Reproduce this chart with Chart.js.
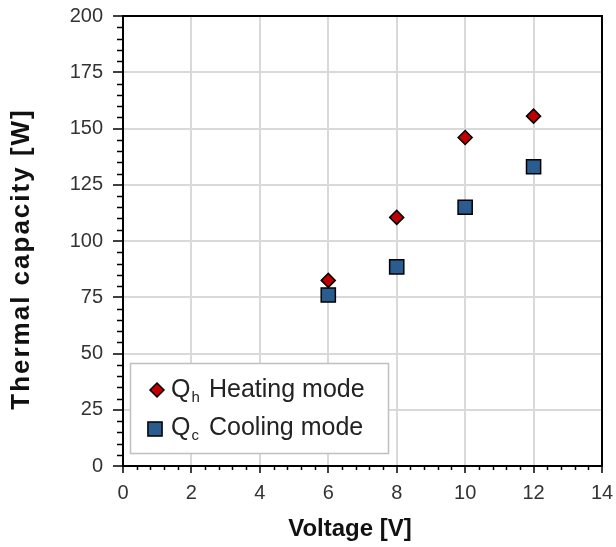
<!DOCTYPE html>
<html><head><meta charset="utf-8">
<script src="https://cdn.jsdelivr.net/npm/chart.js@4/dist/chart.umd.min.js"></script>
<style>html,body{margin:0;padding:0;background:#fff}#wrap{width:616px;height:547px}</style>
</head><body><div id="wrap"><canvas id="c" width="616" height="547"></canvas></div>
<script>
const voltages = [6, 8, 10, 12];
const heatingValues = [82.5, 110.5, 146, 155.5];
const coolingValues = [76, 88.5, 115, 133];
const xTickValues = [0, 2, 4, 6, 8, 10, 12, 14];
const yTickValues = [0, 25, 50, 75, 100, 125, 150, 175, 200];
const seriesSymbols = ['Q', 'Q'];
const seriesSubscripts = ['h', 'c'];
const seriesNames = ['Heating mode', 'Cooling mode'];
const xTitle = 'Voltage [V]';
const yTitle = 'Thermal capacity [W]';

const FONT = '"Liberation Sans", Arial, sans-serif';
const heatColor = '#c00000';
const coolColor = '#2b5c8f';

const framePlugin = {
  id: 'frame',
  beforeDatasetsDraw(chart) {
    const ctx = chart.ctx, a = chart.chartArea;
    const xs = chart.scales.x, ys = chart.scales.y;
    ctx.save();
    ctx.strokeStyle = '#000';
    ctx.lineWidth = 2;
    ctx.beginPath();
    ctx.moveTo(a.left, a.top); ctx.lineTo(a.right, a.top); ctx.lineTo(a.right, a.bottom);
    ctx.stroke();
    ctx.lineWidth = 1.5;
    ctx.beginPath();
    for (let i = 0; i <= 40; i++) {
      if (i % 5 === 0) continue;
      const y = Math.round(ys.getPixelForValue(i * 5)) + 0.5;
      ctx.moveTo(a.left - 6, y); ctx.lineTo(a.left, y);
    }
    for (let i = 0; i <= 35; i++) {
      if (i % 5 === 0) continue;
      const x = Math.round(xs.getPixelForValue(i * 0.4)) + 0.5;
      ctx.moveTo(x, a.bottom); ctx.lineTo(x, a.bottom + 4);
    }
    ctx.stroke();
    ctx.restore();
  },
  afterDatasetsDraw(chart) {
    const ctx = chart.ctx;
    ctx.save();
    ctx.fillStyle = '#fff';
    ctx.fillRect(130, 363, 258, 90);
    ctx.strokeStyle = '#bfbfbf';
    ctx.lineWidth = 1.5;
    ctx.strokeRect(130.5, 363.5, 258, 90);
    const rows = [
      {mx: 157, my: 390, base: 397},
      {mx: 155, my: 429, base: 435}
    ];
    chart.data.datasets.forEach((ds, i) => {
      const r = rows[i];
      ctx.fillStyle = ds.backgroundColor;
      ctx.strokeStyle = ds.borderColor;
      ctx.lineWidth = ds.borderWidth;
      Chart.helpers.drawPoint(ctx, {pointStyle: ds.pointStyle, radius: ds.pointRadius, borderWidth: ds.borderWidth, rotation: 0}, r.mx, r.my);
      ctx.fillStyle = '#222';
      ctx.textAlign = 'left';
      ctx.textBaseline = 'alphabetic';
      ctx.font = '25px ' + FONT;
      ctx.fillText(seriesSymbols[i], 171, r.base);
      const qw = ctx.measureText(seriesSymbols[i]).width;
      ctx.font = '15px ' + FONT;
      ctx.fillText(seriesSubscripts[i], 171 + qw + 1, r.base + 5);
      ctx.font = '25px ' + FONT;
      ctx.fillText(seriesNames[i], 209, r.base);
    });
    ctx.restore();
  },
  afterDraw(chart) {
    const ctx = chart.ctx;
    ctx.save();
    ctx.fillStyle = '#111';
    ctx.textAlign = 'center';
    ctx.textBaseline = 'middle';
    ctx.font = 'bold 24px ' + FONT;
    ctx.fillText(xTitle, 350, 529);
    ctx.translate(22, 260);
    ctx.rotate(-Math.PI / 2);
    ctx.font = 'bold 26px ' + FONT;
    try { ctx.letterSpacing = '2px'; } catch (e) {}
    ctx.fillText(yTitle, 1, 0);
    ctx.restore();
  }
};

new Chart(document.getElementById('c'), {
  type: 'scatter',
  data: {
    datasets: [
      {
        label: seriesSymbols[0] + seriesSubscripts[0] + ' ' + seriesNames[0],
        data: voltages.map((v, i) => ({x: v, y: heatingValues[i]})),
        pointStyle: 'rectRot', pointRadius: 7, pointHoverRadius: 7,
        backgroundColor: heatColor, borderColor: '#000', borderWidth: 1.5
      },
      {
        label: seriesSymbols[1] + seriesSubscripts[1] + ' ' + seriesNames[1],
        data: voltages.map((v, i) => ({x: v, y: coolingValues[i]})),
        pointStyle: 'rect', pointRadius: 10, pointHoverRadius: 10,
        backgroundColor: coolColor, borderColor: '#000', borderWidth: 1.5
      }
    ]
  },
  options: {
    responsive: false,
    animation: false,
    devicePixelRatio: 1,
    layout: {padding: {top: 16, right: 14, left: 0, bottom: 0}},
    plugins: {legend: {display: false}, tooltip: {enabled: false}},
    scales: {
      x: {
        type: 'linear', min: 0, max: 14,
        afterBuildTicks: s => { s.ticks = xTickValues.map(v => ({value: v})); },
        afterFit: s => { s.height = 81; s.paddingLeft = 0; s.paddingRight = 0; },
        ticks: {font: {family: FONT, size: 20}, color: '#333', padding: 8, maxRotation: 0},
        grid: {
          color: c => (c.tick && (c.tick.value === 0 || c.tick.value === 14)) ? 'rgba(0,0,0,0)' : '#d9d9d9',
          lineWidth: 2, tickLength: 7, tickColor: '#000', tickWidth: 1.5, drawTicks: true
        },
        border: {display: true, color: '#000', width: 2}
      },
      y: {
        type: 'linear', min: 0, max: 200,
        afterBuildTicks: s => { s.ticks = yTickValues.map(v => ({value: v})); },
        afterFit: s => { s.width = 123; s.paddingTop = 0; s.paddingBottom = 0; },
        ticks: {font: {family: FONT, size: 20}, color: '#333', padding: 10},
        grid: {
          color: c => (c.tick && (c.tick.value === 0 || c.tick.value === 200)) ? 'rgba(0,0,0,0)' : '#d9d9d9',
          lineWidth: 2, tickLength: 10, tickColor: '#000', tickWidth: 1.5, drawTicks: true
        },
        border: {display: true, color: '#000', width: 2}
      }
    }
  },
  plugins: [framePlugin]
});
</script></body></html>
